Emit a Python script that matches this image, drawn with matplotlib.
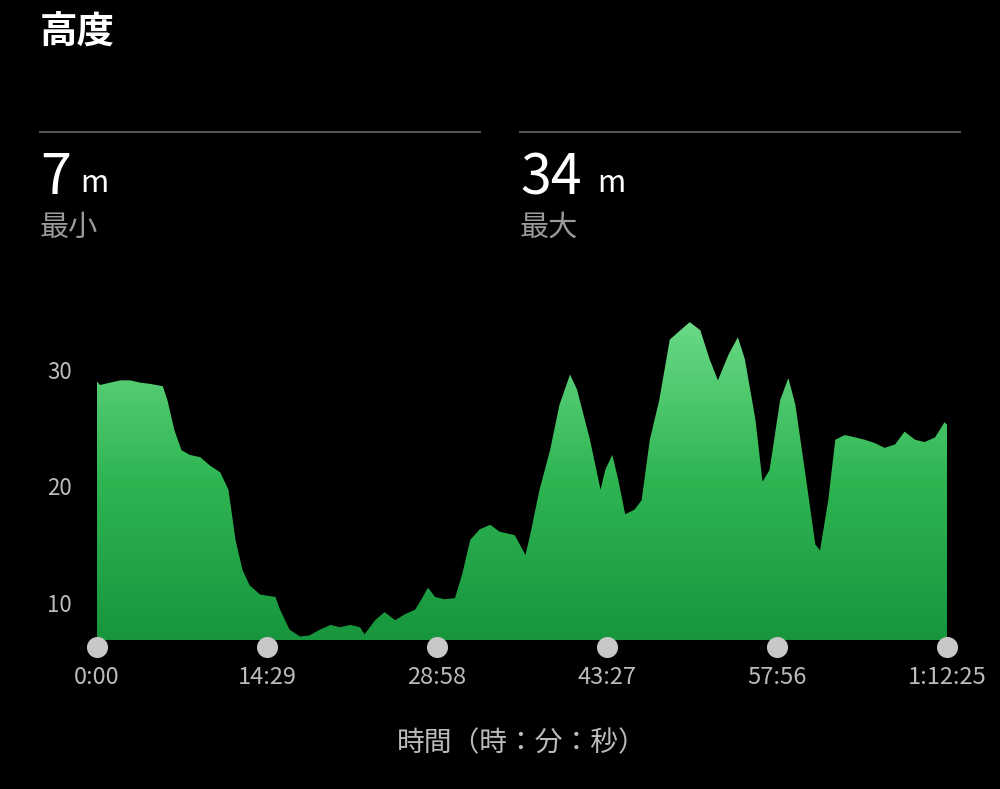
import numpy as np
import matplotlib.pyplot as plt
from matplotlib.colors import LinearSegmentedColormap

plt.rcParams['font.family'] = ['Noto Sans CJK JP', 'DejaVu Sans']

# elevation profile (time in minutes, elevation in m)
t_min = [0, 0.26, 1.1, 2.0, 2.8, 3.7, 4.5, 5.6, 6.0, 6.6, 7.2, 7.9, 8.8, 9.6, 10.5, 11.2,
         11.8, 12.4, 13.0, 13.9, 15.2, 15.6, 16.4, 17.3, 18.1, 19.0, 19.9, 20.7, 21.6, 22.4,
         22.8, 23.7, 24.5, 25.4, 26.2, 27.1, 27.7, 28.2, 28.8, 29.6, 30.5, 31.1, 31.8, 32.6,
         33.5, 34.3, 35.6, 36.5, 36.9, 37.7, 38.6, 39.4, 40.3, 40.9, 42.0, 42.9, 43.3, 43.9,
         44.4, 45.0, 45.8, 46.4, 47.1, 47.9, 48.8, 49.7, 50.5, 51.4, 52.2, 52.9, 53.8, 54.6,
         55.2, 56.1, 56.7, 57.3, 58.2, 58.9, 59.5, 60.3, 61.2, 61.6, 62.3, 62.9, 63.7, 64.6,
         65.4, 66.3, 67.1, 68.0, 68.8, 69.7, 70.5, 71.4, 72.2, 72.42]
elev = [29.0, 28.7, 28.9, 29.1, 29.1, 28.9, 28.8, 28.6, 27.4, 24.8, 23.1, 22.7, 22.5, 21.8,
        21.2, 19.7, 15.4, 12.8, 11.5, 10.7, 10.5, 9.4, 7.7, 7.1, 7.2, 7.7, 8.1, 7.9, 8.1, 7.9,
        7.3, 8.5, 9.2, 8.5, 9.0, 9.4, 10.4, 11.3, 10.5, 10.3, 10.4, 12.4, 15.4, 16.3, 16.7,
        16.1, 15.8, 14.1, 15.8, 19.7, 23.1, 27.0, 29.6, 28.3, 24.0, 19.7, 21.4, 22.7, 20.6,
        17.6, 18.0, 18.8, 24.0, 27.4, 32.6, 33.4, 34.1, 33.4, 30.9, 29.1, 31.3, 32.8, 30.9,
        25.7, 20.4, 21.4, 27.4, 29.3, 27.0, 21.4, 15.0, 14.5, 18.8, 24.0, 24.4, 24.2, 24.0,
        23.7, 23.3, 23.6, 24.7, 24.0, 23.8, 24.2, 25.5, 25.3]
tick_pos = [0, 14.483, 28.967, 43.45, 57.933, 72.417]
tick_labels = ['0:00', '14:29', '28:58', '43:27', '57:56', '1:12:25']
y_ticks = [10, 20, 30]

fig = plt.figure(figsize=(10, 7.89), dpi=100, facecolor='black')

fig.text(0.04, 0.96, '高度', color='white', fontsize=27, fontweight='bold', va='center')
for x0, x1, val, lab, mx in [(0.04, 0.48, '7', '最小', 0.08), (0.52, 0.96, '34', '最大', 0.597)]:
    fig.add_artist(plt.Line2D([x0, x1], [0.833, 0.833], color='#555555', lw=1.5))
    fig.text(x0, 0.774, val, color='white', fontsize=40, va='center')
    fig.text(mx, 0.768, 'm', color='white', fontsize=22, va='center')
    fig.text(x0, 0.711, lab, color='#9a9a9a', fontsize=21, va='center')

ax = fig.add_axes([0.097, 0.1888, 0.85, 0.431])
ax.set_facecolor('black')
ymin, ymax = 6.8, 36
ax.set_xlim(0, 72.417)
ax.set_ylim(ymin, ymax)

poly = ax.fill_between(t_min, elev, ymin, color='none', lw=0)
cmap = LinearSegmentedColormap.from_list('g', ['#17963d', '#2eb552', '#6ad985'])
grad = np.linspace(0, 1, 256).reshape(-1, 1)
img = ax.imshow(grad, cmap=cmap, aspect='auto', origin='lower',
                extent=[0, 72.417, ymin, 34.1], zorder=1)
img.set_clip_path(poly.get_paths()[0], transform=ax.transData)

ax.scatter(tick_pos, [ymin - 0.6] * len(tick_pos), s=200, color='#c8c8c8',
           clip_on=False, zorder=5)

for s in ax.spines.values():
    s.set_visible(False)
ax.set_xticks(tick_pos)
ax.set_xticklabels(tick_labels, color='#bbbbbb', fontsize=17)
ax.tick_params(axis='x', length=0, pad=19)
ax.set_yticks(y_ticks)
ax.set_yticklabels([str(v) for v in y_ticks], color='#bbbbbb', fontsize=16)
ax.tick_params(axis='y', length=0, pad=18)
ax.set_xlabel('時間（時：分：秒）', color='#bbbbbb', fontsize=20, labelpad=28)

fig.savefig('out.png', dpi=100, facecolor='black')
